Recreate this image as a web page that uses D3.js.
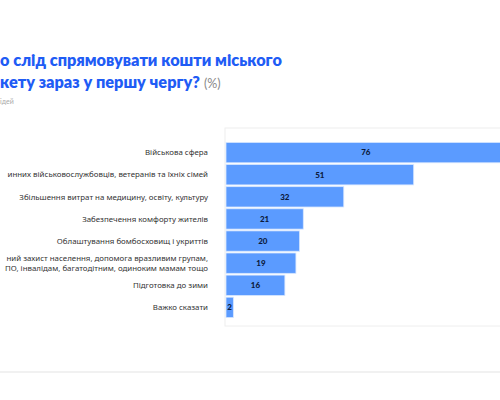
<!DOCTYPE html>
<html><head><meta charset="utf-8">
<script src="https://cdn.jsdelivr.net/npm/d3@7"></script>
<style>html,body{margin:0;padding:0;background:#fff;overflow:hidden}</style>
</head><body>
<svg id="c" width="500" height="400"></svg>
<script>
const titleLines = ["о слід спрямовувати кошти міського", "кету зараз у першу чергу?"];
const titleUnit = "(%)";
const subtitle = "ідей";
const categories = [
  ["Військова сфера"],
  ["инних військовослужбовців, ветеранів та їхніх сімей"],
  ["Збільшення витрат на медицину, освіту, культуру"],
  ["Забезпечення комфорту жителів"],
  ["Облаштування бомбосховищ і укриттів"],
  ["ний захист населення, допомога вразливим групам,", "ПО, інвалідам, багатодітним, одиноким мамам тощо"],
  ["Підготовка до зими"],
  ["Важко сказати"]
];
const values = [76, 51, 32, 21, 20, 19, 16, 2];

const svg = d3.select("#c");
const blue = "#1f5cf5";

// Title
svg.append("text").attr("x", 0).attr("y", 66)
  .attr("font-family", "Lato, 'Open Sans', sans-serif").attr("font-weight", 800)
  .attr("font-size", 16.3).attr("fill", blue).text(titleLines[0]);
const t2 = svg.append("text").attr("x", 0).attr("y", 88)
  .attr("font-family", "Lato, 'Open Sans', sans-serif").attr("font-weight", 800)
  .attr("font-size", 16.3).attr("fill", blue);
t2.append("tspan").text(titleLines[1]);
t2.append("tspan").attr("dx", 4).attr("font-weight", 400).attr("font-size", 12.5)
  .attr("fill", "#888").text(titleUnit);

svg.append("text").attr("x", 0).attr("y", 104)
  .attr("font-family", "Lato, sans-serif").attr("font-size", 7)
  .attr("fill", "#aaa").text(subtitle);

// Plot frame
const pLeft = 225, pTop = 128, pBottom = 326;
svg.append("rect").attr("x", pLeft).attr("y", pTop).attr("width", 400).attr("height", pBottom - pTop)
  .attr("fill", "none").attr("stroke", "#eeeeee").attr("stroke-width", 1);

const x = d3.scaleLinear().domain([0, 100]).range([pLeft + 1, pLeft + 1 + 368]);
const y = d3.scaleBand().domain(d3.range(values.length)).range([142, 318]).paddingInner(0.08).paddingOuter(0.02);

const g = svg.append("g");
g.selectAll("rect.bar").data(values).join("rect").attr("class", "bar")
  .attr("x", x(0)).attr("y", (d, i) => y(i))
  .attr("width", d => x(d) - x(0)).attr("height", y.bandwidth())
  .attr("fill", "#5b9bff").attr("stroke", "#d6e6ff").attr("stroke-width", 0.8);

g.selectAll("text.val").data(values).join("text").attr("class", "val")
  .attr("x", d => (x(d) + x(0)) / 2).attr("y", (d, i) => y(i) + y.bandwidth() / 2)
  .attr("dy", "0.35em").attr("text-anchor", "middle")
  .attr("font-family", "Lato, sans-serif").attr("font-weight", 900).attr("font-size", 8)
  .attr("fill", "#0c1a3c").text(d => d);

// Category labels
const lab = svg.append("g");
categories.forEach((lines, i) => {
  const cy = y(i) + y.bandwidth() / 2;
  const lh = 10;
  const t = lab.append("text").attr("text-anchor", "end")
    .attr("font-family", "'Noto Sans', sans-serif").attr("font-size", 7.9).attr("fill", "#333");
  lines.forEach((ln, k) => {
    t.append("tspan").attr("x", 208)
      .attr("y", cy + (k - (lines.length - 1) / 2) * lh).attr("dy", "0.35em").text(ln);
  });
});

// separator
svg.append("line").attr("x1", 0).attr("x2", 500).attr("y1", 372).attr("y2", 372)
  .attr("stroke", "#ececec").attr("stroke-width", 1.5);
</script>
</body></html>
